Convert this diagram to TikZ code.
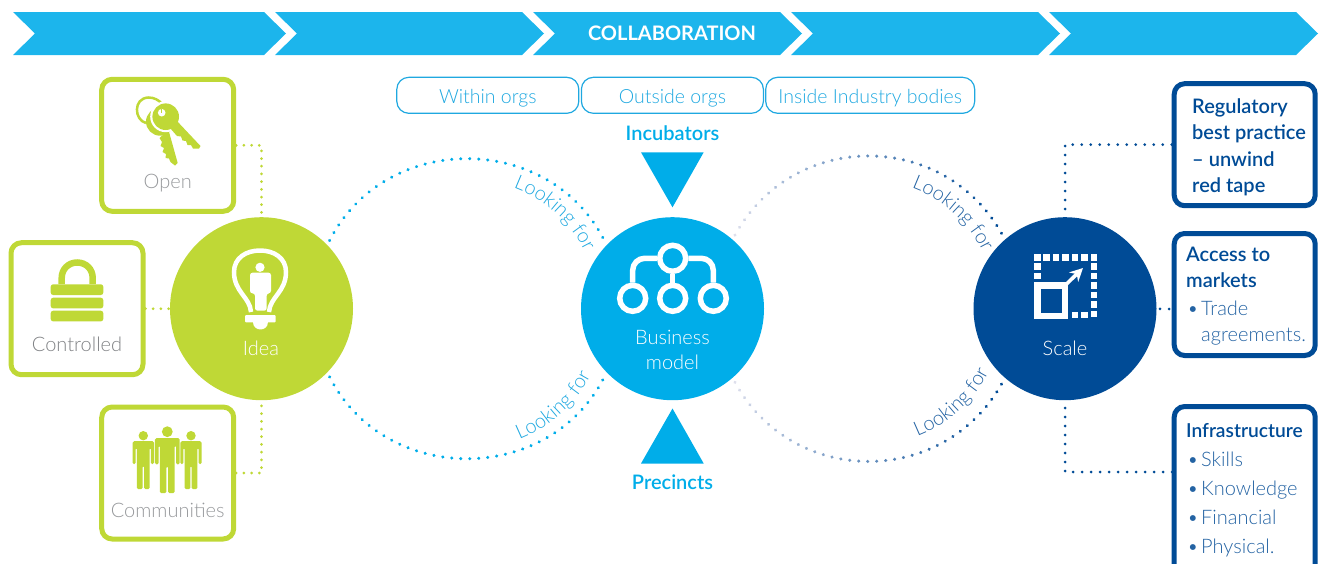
\documentclass[tikz,border=0pt]{standalone}
\usepackage{fontspec}
\usetikzlibrary{arrows.meta,decorations.markings,decorations.text}
\setmainfont{Lato}
\newfontface\lightfont{Lato Light}
\newfontface\medfont{Lato Semibold}
\definecolor{chevblue}{HTML}{1CB5EC}
\definecolor{modelblue}{HTML}{00ADE9}
\definecolor{lookblue}{HTML}{1FA8E0}
\definecolor{scaleblue}{HTML}{004B96}
\definecolor{softblue}{HTML}{2463A3}
\definecolor{ideagreen}{HTML}{BFD836}
\definecolor{palelav}{HTML}{E2E2EE}
\definecolor{cleargrey}{HTML}{97999C}
\newcommand{\bodyfont}{\lightfont\fontsize{20}{24}\selectfont}
\newcommand{\headfont}{\medfont\fontsize{20}{24}\selectfont}
\newcommand{\lookleft}{\lightfont\fontsize{20}{24}\selectfont\color{lookblue}}
\newcommand{\lookright}{\lightfont\fontsize{20}{24}\selectfont\color{softblue}}
\newcommand{\bul}{\makebox[15pt][l]{\hspace{1pt}\textbullet}}
\tikzset{
	hub/.style={circle,inner sep=0pt,minimum size=183pt,fill=#1},
	greenbox/.style={draw=ideagreen,line width=5pt,rounded corners=10.5pt,minimum width=132pt,minimum height=132pt},
	bluebox/.style={draw=scaleblue,line width=5pt,rounded corners=10.5pt,minimum width=141pt},
	pill/.style={draw=lookblue,line width=1.2pt,rounded corners=12pt,minimum height=36pt,text height=16pt,text depth=0pt,text=lookblue,font=\lightfont\fontsize{19.5}{24}\selectfont},
	hubtext/.style={text=white,font=\bodyfont,align=center},
	boxtext/.style={anchor=north west,inner sep=0pt,align=left,text=scaleblue},
	greendots/.style={draw=ideagreen,line width=3pt,line cap=round,dash pattern=on 0pt off 7.7pt},
	bluedots/.style={draw=scaleblue,line width=3pt,line cap=round,dash pattern=on 0pt off 9pt},
	lookdots/.style={postaction={decorate},decoration={markings,mark=between positions 5pt and 1 step 9pt with {\fill[modelblue] circle (1.7pt);}}},
	fadedots/.style={postaction={decorate},decoration={markings,mark=between positions 5pt and 1 step 9pt with {\pgfmathtruncatemacro{\mixpct}{min(100,\pgfkeysvalueof{/pgf/decoration/mark info/sequence number}*2.9)}\fill[scaleblue!\mixpct!palelav] circle (1.7pt);}}},
	ring/.style={circle,draw=white,line width=5.5pt,inner sep=0pt,minimum size=26pt}
}
\begin{document}
\begin{tikzpicture}[x=1pt,y=-1pt]
	\path[use as bounding box,clip] (0,0) rectangle (1326,563);

	\foreach \l/\r in {13/264,275/522,533/780,791/1038,1049/1296}
		\fill[chevblue] (\l,12) -- (\r,12) -- (\r+22,33.5) -- (\r,55) -- (\l,55) -- (\l+22,33.5) -- cycle;
	\node[text=white,font=\fontsize{20}{24}\bfseries] (collab) at (672,33) {COLLABORATION};

	\node[pill,minimum width=182pt] (within) at (487.8,95.3) {Within orgs};
	\node[pill,minimum width=182pt] (outside) at (672.4,95.3) {Outside orgs};
	\node[pill,minimum width=209pt] (inside) at (870.2,95.3) {Inside Industry bodies};

	\node[hub=ideagreen] (idea) at (261.5,308.7) {};
	\node[hub=modelblue] (model) at (672.5,308.7) {};
	\node[hub=scaleblue] (scale) at (1065,308.7) {};

	\node[greenbox] (open) at (167.7,145.3) {};
	\node[greenbox] (controlled) at (77,308.7) {};
	\node[greenbox] (communities) at (167.7,473) {};
	\node[text=cleargrey,font=\bodyfont] (opentext) at (167.7,183.5) {Open};
	\node[text=cleargrey!85!black,font=\bodyfont] (controlledtext) at (77,344) {Controlled};
	\node[text=cleargrey,font=\bodyfont] (communitiestext) at (167.7,510) {Communities};

	\node[bluebox,minimum height=122pt] (regulatory) at (1244.7,144.7) {};
	\node[bluebox,minimum height=122pt] (access) at (1244.7,294.5) {};
	\node[bluebox,minimum height=190pt] (infra) at (1244.7,501.5) {};
	\coordinate (accessport) at (1169,309);
	\coordinate (infraport) at (1172,472);

	\draw[greendots] (open.east) -| (idea.north);
	\draw[greendots] (controlled.east) -- (idea.west);
	\draw[greendots] (communities.east) -| (idea.south);
	\draw[bluedots] (regulatory.west) -| (scale.north);
	\draw[bluedots] (accessport) -- (scale.east);
	\draw[bluedots] (infraport) -| (scale.south);

	\path[lookdots] (idea.44) to[out=65,in=115,distance=127pt] (model.136);
	\path[lookdots] (idea.-44) to[out=-65,in=-115,distance=127pt] (model.-136);
	\path[fadedots] (model.49) to[out=63,in=117,distance=125pt] (scale.131);
	\path[fadedots] (model.-49) to[out=-63,in=-117,distance=125pt] (scale.-131);

	\path[decorate,decoration={text along path,text align=center,text={|\lookleft|Looking for}}]
		(494.7,181.9) .. controls (540.5,191.6) and (577.6,225) .. (592.1,269.5);
	\path[decorate,decoration={text along path,text align=center,text={|\lookleft|Looking for}}]
		(495.8,446.9) .. controls (545.1,436.4) and (585,400.5) .. (600.6,352.6);
	\path[decorate,decoration={text along path,text align=center,text={|\lookright|Looking for}}]
		(893.8,182.9) .. controls (938.8,192.5) and (975.5,225.5) .. (989.7,269.2);
	\path[decorate,decoration={text along path,text align=center,text={|\lookright|Looking for}}]
		(895.2,443.4) .. controls (943.4,433.1) and (982.5,397.9) .. (997.7,351);

	\node[text=modelblue,font=\headfont] (incubators) at (672.5,133) {Incubators};
	\fill[modelblue] (641,152.3) -- (703.7,152.3) -- (672.5,207.3) -- cycle;
	\fill[modelblue] (641,463.5) -- (703.7,463.5) -- (672.5,408.5) -- cycle;
	\node[text=modelblue,font=\headfont] (precincts) at (672.5,482) {Precincts};

	\node[hubtext] (ideatext) at (261,348) {Idea};
	\node[hubtext] (scaletext) at (1065,348) {Scale};
	\node[hubtext] (modeltext1) at (672.5,337) {Business};
	\node[hubtext] (modeltext2) at (672.5,362) {model};

	\node[ring] (top) at (672.7,258.3) {};
	\node[ring] (left) at (632.7,298.3) {};
	\node[ring] (mid) at (672.7,298.3) {};
	\node[ring] (right) at (713.3,298.3) {};
	\draw[white,line width=5.5pt,rounded corners=12pt] (top) -| (left);
	\draw[white,line width=5.5pt,rounded corners=12pt] (top) -| (right);
	\draw[white,line width=5.5pt] (top) -- (mid);

	% bulb
	\draw[white,line width=4.5pt] (251,312) .. controls (250,297) and (234,292) .. (234,272) .. controls (234,258) and (246,250.5) .. (260,250.5) .. controls (274,250.5) and (286,258) .. (286,272) .. controls (286,292) and (270,297) .. (269,312);
	\fill[white,rounded corners=1pt] (245,315) rectangle (275.7,322.3);
	\fill[white] (252.5,322) .. controls (252.5,332) and (267.5,332) .. (267.5,322) -- cycle;
	\fill[white] (260,267.3) circle (4.6pt);
	\fill[white,rounded corners=2.5pt] (250,272.7) -- (271,272.7) -- (271,293.3) -- (266.7,293.3) -- (266.7,310.7) -- (255,310.7) -- (255,293.3) -- (250,293.3) -- cycle;

	% scale
	\foreach \i in {0,...,6} \fill[white] (1034+9.45*\i,254) rectangle ++(6.5,6.5);
	\foreach \i in {1,...,6} \fill[white] (1090.7,254+9.45*\i) rectangle ++(6.5,6.5);
	\foreach \i in {1,2} \fill[white] (1034,254+9.45*\i) rectangle ++(6.5,6.5);
	\foreach \i in {4,5} \fill[white] (1034+9.45*\i,311.5) rectangle ++(6.5,6.5);
	\draw[white,line width=6.5pt] (1037.3,285.5) rectangle (1065,315.8);
	\draw[white,line width=3.6pt,-{Stealth[length=13pt,width=13pt]}] (1065,285.5) -- (1083,268);

	% lock
	\draw[ideagreen,line width=6.5pt] (61.7,284) -- (61.7,278) .. controls (61.7,269) and (68.5,262.5) .. (77.2,262.5) .. controls (86,262.5) and (92.7,269) .. (92.7,278) -- (92.7,284);
	\foreach \y in {284.3,297.7,310.7}
		\fill[ideagreen,rounded corners=2.5pt] (50.7,\y) rectangle (103.3,\y+10.7);

	% keys
	\draw[ideagreen,line width=2.5pt] (146,123) .. controls (134,120) and (133,98) .. (148.5,97.5) .. controls (154,97.5) and (159,100) .. (162,104);
	\fill[ideagreen] (160,121.7) circle (14pt);
	\fill[ideagreen] (168.5,130) -- (177.7,163) -- (175,165.5) -- (170.5,162) -- (169,158.5) -- (165.5,158) -- (166,154) -- (162.5,152) -- (164,148) -- (160.5,146) -- (162,142) -- (159.5,138) -- cycle;
	\fill[white] (165.7,116.7) circle (15.5pt);
	\fill[ideagreen] (165.7,116.7) circle (13.3pt);
	\fill[ideagreen] (176,120) -- (200.5,146) -- (199,148.5) -- (193,148.5) -- (191,145) -- (187.5,145) -- (186,141) -- (182.5,140.5) -- (181,136.5) -- (177,136) -- (170,128) -- cycle;
	\fill[white] (161.7,112.7) circle (3.8pt);
	\draw[ideagreen,line width=1.2pt] (161.7,109) -- (161.7,113);

	% people
	\foreach \px/\py/\ps in {143.3/435.7/1,191/435.7/1,167.3/431.7/1.15}
		\fill[ideagreen,shift={(\px,\py)},scale=\ps] (0,0) circle (4.7pt)
			[rounded corners=1.5pt] (-10.7,28.5) -- (-10.7,5.5) -- (10.7,5.5) -- (10.7,28.5) -- (7.6,28.5) -- (7.6,12) -- (6.4,12) -- (6.4,53.5) -- (0.7,53.5) -- (0.7,30) -- (-0.7,30) -- (-0.7,53.5) -- (-6.4,53.5) -- (-6.4,12) -- (-7.6,12) -- (-7.6,28.5) -- cycle;

	\node[boxtext,font=\medfont\fontsize{20}{26.3}\selectfont] (regulatorytext) at (1192,98.5) {Regulatory\\best practice\\– unwind\\red tape};
	\node[boxtext,font=\medfont\fontsize{20}{26}\selectfont] (accesstext) at (1186,247) {Access to\\markets};
	\node[boxtext,text=softblue,font=\lightfont\fontsize{20}{26}\selectfont] (tradetext) at (1186,301) {\bul Trade\\\hspace*{15pt}agreements.};
	\node[boxtext,font=\medfont\fontsize{19.2}{24}\selectfont] (infratext) at (1186,423) {Infrastructure};
	\node[boxtext,text=softblue,font=\lightfont\fontsize{20}{29}\selectfont] (skilllist) at (1186,452) {\bul Skills\\\bul Knowledge\\\bul Financial\\\bul Physical.};
\end{tikzpicture}
\end{document}
